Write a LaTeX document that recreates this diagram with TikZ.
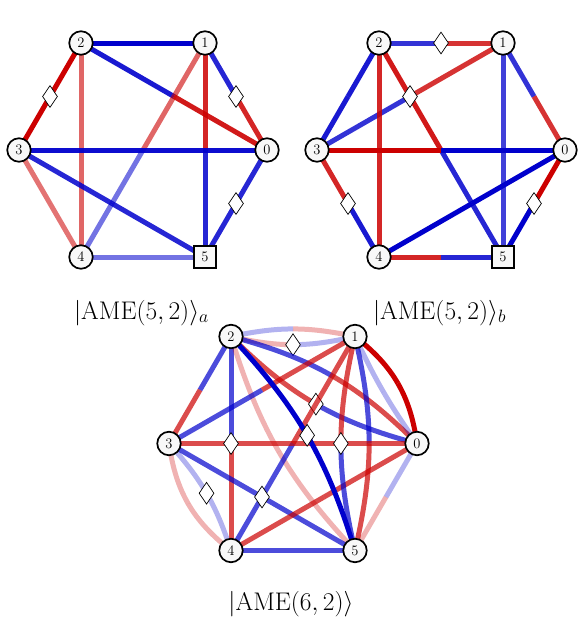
\RequirePackage{fix-cm}
\documentclass[tikz,border=0pt]{standalone}
\usepackage{amsmath}
\usetikzlibrary{calc,shapes.geometric}
\pgfdeclarelayer{bg}
\pgfsetlayers{bg,main}
\definecolor{R}{RGB}{204,0,0}
\definecolor{B}{RGB}{0,0,204}
\definecolor{nodefill}{RGB}{248,248,248}
\tikzset{
 e/.style={line width=5pt},
 rd/.style={e,draw=R,draw opacity=#1}, rd/.default=1,
 bl/.style={e,draw=B,draw opacity=#1}, bl/.default=1,
 vtx/.style={circle,draw,line width=1.7pt,fill=nodefill,minimum size=23.5pt,inner sep=0pt,font=\fontsize{14.5}{14.5}\selectfont},
 sq/.style={rectangle,draw,line width=2.2pt,fill=nodefill,minimum size=22.5pt,inner sep=0pt,font=\fontsize{14.5}{14.5}\selectfont},
 dia/.style={diamond,draw,line width=0.7pt,fill=white,minimum width=15pt,minimum height=22pt,inner sep=0pt},
 lab/.style={font=\fontsize{25.5}{30}\selectfont,inner sep=0pt,anchor=base}
}
\newcommand\hedge[4]{%
  \draw[#3] (#1.center) -- ($(#1.center)!0.5!(#2.center)$);
  \draw[#4] ($(#1.center)!0.5!(#2.center)$) -- (#2.center);}
\newcommand\dmid[2]{\node[dia] at ($(#1.center)!0.5!(#2.center)$) {};}
\newcommand\bedge[5]{%
  \pgfmathsetmacro\nang{-(#3)}%
  \coordinate (P0) at (#1.center);
  \coordinate (P3) at (#2.center);
  \coordinate (P1) at ($(P0)!0.3915!#3:(P3)$);
  \coordinate (P2) at ($(P3)!0.3915!\nang:(P0)$);
  \coordinate (Q1) at ($(P0)!0.5!(P1)$);
  \coordinate (Q2) at ($0.25*(P0)+0.5*(P1)+0.25*(P2)$);
  \coordinate (M) at ($0.125*(P0)+0.375*(P1)+0.375*(P2)+0.125*(P3)$);
  \coordinate (R1) at ($0.25*(P1)+0.5*(P2)+0.25*(P3)$);
  \coordinate (R2) at ($(P2)!0.5!(P3)$);
  \draw[#4] (P0) .. controls (Q1) and (Q2) .. (M);
  \draw[#5] (M) .. controls (R1) and (R2) .. (P3);}
\begin{document}
\begin{tikzpicture}[x=1pt,y=-1pt]
\useasboundingbox (0,0) rectangle (579,621);
% graph a
\node[vtx] (A0) at (267,150) {0};
\node[vtx] (A1) at (205,43) {1};
\node[vtx] (A2) at (81,43) {2};
\node[vtx] (A3) at (19,150) {3};
\node[vtx] (A4) at (81,257) {4};
\node[sq]  (A5) at (205,257) {5};
% graph b
\node[vtx] (B0) at (565,150) {0};
\node[vtx] (B1) at (503,43) {1};
\node[vtx] (B2) at (379,43) {2};
\node[vtx] (B3) at (317,150) {3};
\node[vtx] (B4) at (379,257) {4};
\node[sq]  (B5) at (503,257) {5};
% graph c
\node[vtx] (C0) at (417,443.5) {0};
\node[vtx] (C1) at (355,336.5) {1};
\node[vtx] (C2) at (231,336.5) {2};
\node[vtx] (C3) at (169,443.5) {3};
\node[vtx] (C4) at (231,550.5) {4};
\node[vtx] (C5) at (355,550.5) {5};
% labels
\node[lab] (LA) at (141.5,319) {$|\mathrm{AME}(5,2)\rangle_a$};
\node[lab] (LB) at (439.5,319) {$|\mathrm{AME}(5,2)\rangle_b$};
\node[lab] (LC) at (291,610.5) {$|\mathrm{AME}(6,2)\rangle$};
\begin{pgfonlayer}{bg}
% a
\hedge{A2}{A1}{bl}{bl}
\hedge{A2}{A0}{bl=0.9}{rd=0.9}
\hedge{A1}{A0}{bl=0.85}{rd=0.85}
\hedge{A2}{A3}{rd}{rd}
\hedge{A2}{A4}{rd=0.6}{rd=0.6}
\hedge{A1}{A4}{rd=0.6}{bl=0.55}
\hedge{A1}{A5}{rd=0.85}{bl=0.85}
\hedge{A3}{A0}{bl=0.95}{bl=0.95}
\hedge{A3}{A5}{bl=0.85}{bl=0.85}
\hedge{A3}{A4}{rd=0.55}{rd=0.55}
\hedge{A4}{A5}{bl=0.55}{bl=0.55}
\hedge{A0}{A5}{bl=0.85}{bl=0.85}
\dmid{A1}{A0}
\dmid{A2}{A3}
\dmid{A0}{A5}
% b
\hedge{B2}{B1}{bl=0.8}{rd=0.8}
\hedge{B1}{B3}{rd=0.8}{bl=0.8}
\hedge{B2}{B3}{bl=0.9}{bl=0.9}
\hedge{B2}{B4}{rd=0.85}{rd=0.85}
\hedge{B2}{B5}{rd=0.9}{bl=0.85}
\hedge{B3}{B0}{rd}{bl}
\hedge{B1}{B5}{bl=0.75}{bl=0.75}
\hedge{B1}{B0}{bl=0.8}{rd=0.8}
\hedge{B0}{B4}{bl}{bl}
\hedge{B0}{B5}{rd}{bl}
\hedge{B3}{B4}{rd=0.85}{bl=0.9}
\hedge{B4}{B5}{rd=0.85}{bl=0.85}
\dmid{B2}{B1}
\dmid{B1}{B3}
\dmid{B0}{B5}
\dmid{B3}{B4}
% c
\bedge{C2}{C1}{12}{bl=0.3}{rd=0.3}
\bedge{C2}{C1}{-13}{rd=0.3}{bl=0.3}
\node[dia] at (M) {};
\bedge{C2}{C0}{15}{bl=0.7}{rd=0.7}
\bedge{C2}{C0}{-15}{rd=0.7}{bl=0.7}
\node[dia] at (M) {};
\hedge{C2}{C3}{bl=0.7}{rd=0.7}
\hedge{C2}{C4}{bl=0.7}{rd=0.7}
\bedge{C2}{C5}{-13}{rd=0.3}{rd=0.3}
\bedge{C1}{C0}{22}{rd}{rd}
\bedge{C1}{C0}{-5}{bl=0.3}{bl=0.3}
\hedge{C1}{C3}{rd=0.7}{bl=0.7}
\hedge{C1}{C4}{rd=0.7}{bl=0.7}
\bedge{C1}{C5}{13}{bl=0.7}{rd=0.7}
\hedge{C3}{C0}{rd=0.7}{rd=0.7}
\bedge{C3}{C4}{-22}{rd=0.3}{rd=0.3}
\hedge{C3}{C5}{bl=0.7}{bl=0.7}
\hedge{C4}{C0}{rd=0.7}{rd=0.7}
\hedge{C4}{C5}{bl=0.7}{bl=0.7}
\hedge{C0}{C5}{bl=0.3}{rd=0.3}
\bedge{C1}{C5}{-13}{rd=0.7}{bl=0.7}
\node[dia] at (M) {};
\bedge{C3}{C4}{12}{bl=0.3}{bl=0.3}
\node[dia] at (M) {};
\bedge{C2}{C5}{13}{bl}{bl}
\node[dia] at (M) {};
\dmid{C2}{C4}
\dmid{C3}{C5}
\end{pgfonlayer}
\end{tikzpicture}
\end{document}
